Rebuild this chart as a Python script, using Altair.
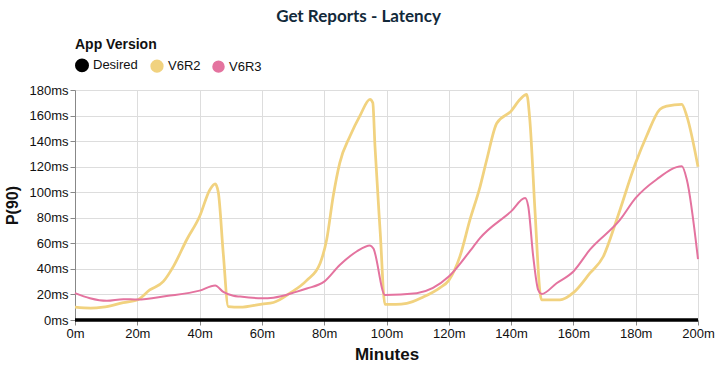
import altair as alt
import pandas as pd

series_names = ["Desired", "V6R2", "V6R3"]
series_colors = ["#000000", "#F1D27F", "#E4739F"]

desired_min = [0, 200]
desired_ms = [0, 0]

v6r2_min = [0, 5, 9, 15.5, 20, 24, 28.3, 31.6, 35.9, 40, 43.3, 45, 46, 47.6, 49.2, 53,
            60, 63.7, 69, 74.4, 78.7, 80.8, 82.9, 85, 88.3, 91.5, 94.7, 95.6, 96.3, 98,
            99.5, 103, 106.5, 111.8, 117, 120, 123.6, 126.8, 130, 132.2, 135.4, 140,
            142.9, 145, 146, 147.7, 149.3, 149.8, 155.7, 160, 165.3, 169.6, 173.9, 180,
            183.5, 187.8, 190, 194.8, 196.4, 200]
v6r2_ms = [10, 9.3, 10, 13.6, 15.7, 23.5, 30, 42, 63, 81, 102, 106.5, 100, 52, 10.5, 10,
           12.5, 13.7, 21, 31, 44.5, 63, 97, 123, 144, 160, 172.7, 170, 136, 68,
           12.3, 12.3, 13, 18, 25, 31, 50, 78.5, 104, 125.6, 154, 163.5,
           172.7, 176.6, 157, 84, 21, 15.7, 15.7, 21.4, 36.6, 49.7, 78.5, 123,
           144, 165, 167.4, 168.8, 159.6, 120]

v6r3_min = [0, 4.8, 10.2, 15.5, 20, 29.4, 40, 45, 47.6, 50.8, 53, 60, 63.7, 71, 74.4, 80,
            85, 90.4, 94.7, 95.8, 99.5, 109.7, 120, 127.9, 130, 140, 144.5, 145.5,
            147.1, 148.7, 149.8, 154.6, 160, 165.3, 175, 180, 186.7, 194.8, 196.4, 200]
v6r3_ms = [21, 17, 15, 16.3, 16, 18.8, 23, 27, 22, 19, 18.3, 17, 17.5, 22, 24.6, 30,
           43, 53.6, 58.4, 56, 19.6, 21, 34, 57.5, 64, 85, 95.5, 89,
           49.7, 23.5, 20.4, 28.8, 38, 55, 78.5, 95.5, 110, 120.3, 110, 47.6]

x_ticks = [0, 20, 40, 60, 80, 100, 120, 140, 160, 180, 200]
y_ticks = [0, 20, 40, 60, 80, 100, 120, 140, 160, 180]

rows = []
for name, mins, vals in [("Desired", desired_min, desired_ms),
                         ("V6R2", v6r2_min, v6r2_ms),
                         ("V6R3", v6r3_min, v6r3_ms)]:
    for m, v in zip(mins, vals):
        rows.append({"series": name, "minute": m, "ms": v})
df = pd.DataFrame(rows)

font = "Liberation Sans"

x_enc = alt.X("minute:Q", title="Minutes",
              scale=alt.Scale(domain=[0, 200], nice=False),
              axis=alt.Axis(values=x_ticks, labelExpr="datum.value + 'm'",
                            labelFlush=False))
y_enc = alt.Y("ms:Q", title="P(90)",
              scale=alt.Scale(domain=[0, 180], nice=False),
              axis=alt.Axis(values=y_ticks, labelExpr="datum.value + 'ms'"))
color_scale = alt.Scale(domain=series_names, range=series_colors)

points = alt.Chart(df).mark_circle(size=0, opacity=1).encode(
    x=x_enc, y=y_enc,
    color=alt.Color("series:N", scale=color_scale,
                    legend=alt.Legend(title="App Version", orient="top",
                                      direction="horizontal", symbolType="circle",
                                      symbolSize=110, offset=10))
)

lines = alt.Chart(df).mark_line(interpolate="monotone").encode(
    x=x_enc, y=y_enc,
    color=alt.Color("series:N", scale=color_scale, legend=None),
    strokeWidth=alt.StrokeWidth("series:N",
                                scale=alt.Scale(domain=series_names, range=[3.5, 2, 2]),
                                legend=None),
    order=alt.Order("minute:Q"),
)

chart = alt.layer(points, lines).properties(
    width=623, height=230,
    title=alt.Title("Get Reports - Latency", font="Lato", fontSize=17,
                    fontWeight="bold", color="#12293A", anchor="middle", offset=12,
                    dx=-28),
    autosize=alt.AutoSizeParams(type="none"),
    padding={"left": 75, "top": 90, "right": 19, "bottom": 47},
).configure_view(stroke=None).configure_axis(
    labelFont=font, labelFontSize=13, labelColor="#111",
    titleFont=font, titleFontWeight="bold", titleColor="#111",
    gridColor="#DDDDDD", domainColor="#888", tickColor="#888",
).configure_axisX(
    titleFontSize=17, labelPadding=2, titlePadding=6,
).configure_axisY(
    titleFontSize=16, titlePadding=8,
).configure_legend(
    labelFont=font, labelFontSize=13, labelColor="#111",
    titleFont=font, titleFontSize=14, titleFontWeight="bold", titleColor="#111",
    columnPadding=8, titlePadding=6,
)

chart.save("out.html", embed_options={"renderer": "svg", "actions": False})
